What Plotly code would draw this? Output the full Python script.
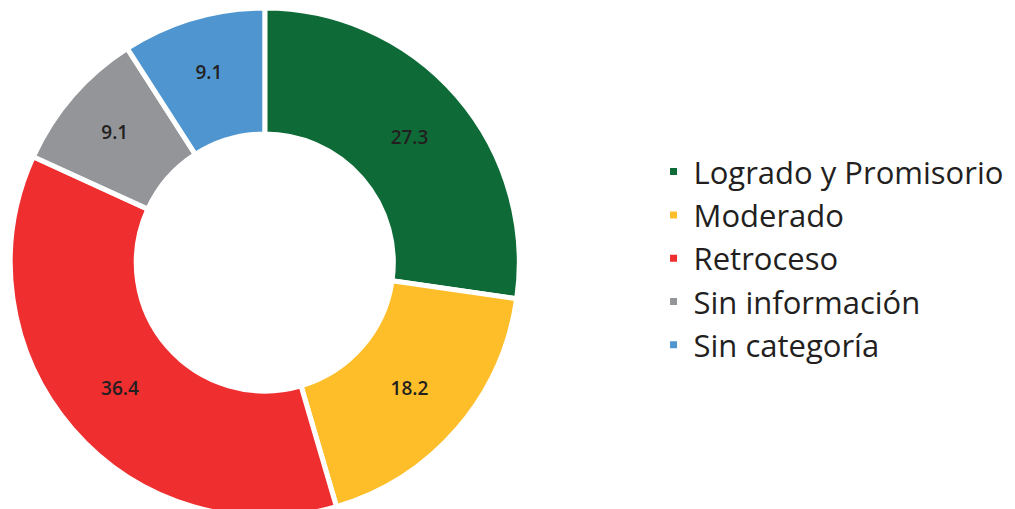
import plotly.graph_objects as go

categories = ["Logrado y Promisorio", "Moderado", "Retroceso", "Sin información", "Sin categoría"]
values = [27.3, 18.2, 36.4, 9.1, 9.1]
colors = ["#0E6B37", "#FDBE2A", "#EE2E2F", "#939598", "#4F96D0"]

W, H = 1015, 509

fig = go.Figure(go.Pie(
    labels=categories,
    values=values,
    sort=False,
    direction="clockwise",
    rotation=0,
    hole=0.505,
    marker=dict(colors=colors, line=dict(color="white", width=5)),
    texttemplate="%{value}",
    textposition="inside",
    insidetextorientation="horizontal",
    textfont=dict(family="Open Sans, sans-serif", size=19, color="#231F20", weight=600),
    domain=dict(x=[0.0, 0.506], y=[0.0, 1.0]),
))

fig.update_layout(
    width=W, height=H,
    margin=dict(l=0, r=0, t=0, b=0),
    paper_bgcolor="white",
    plot_bgcolor="white",
    showlegend=True,
    legend=dict(
        x=0.636, y=0.508, xanchor="left", yanchor="middle",
        font=dict(family="Open Sans, sans-serif", size=31, color="#231F20"),
        itemwidth=30,
    ),
)

fig.write_html("out.html")
